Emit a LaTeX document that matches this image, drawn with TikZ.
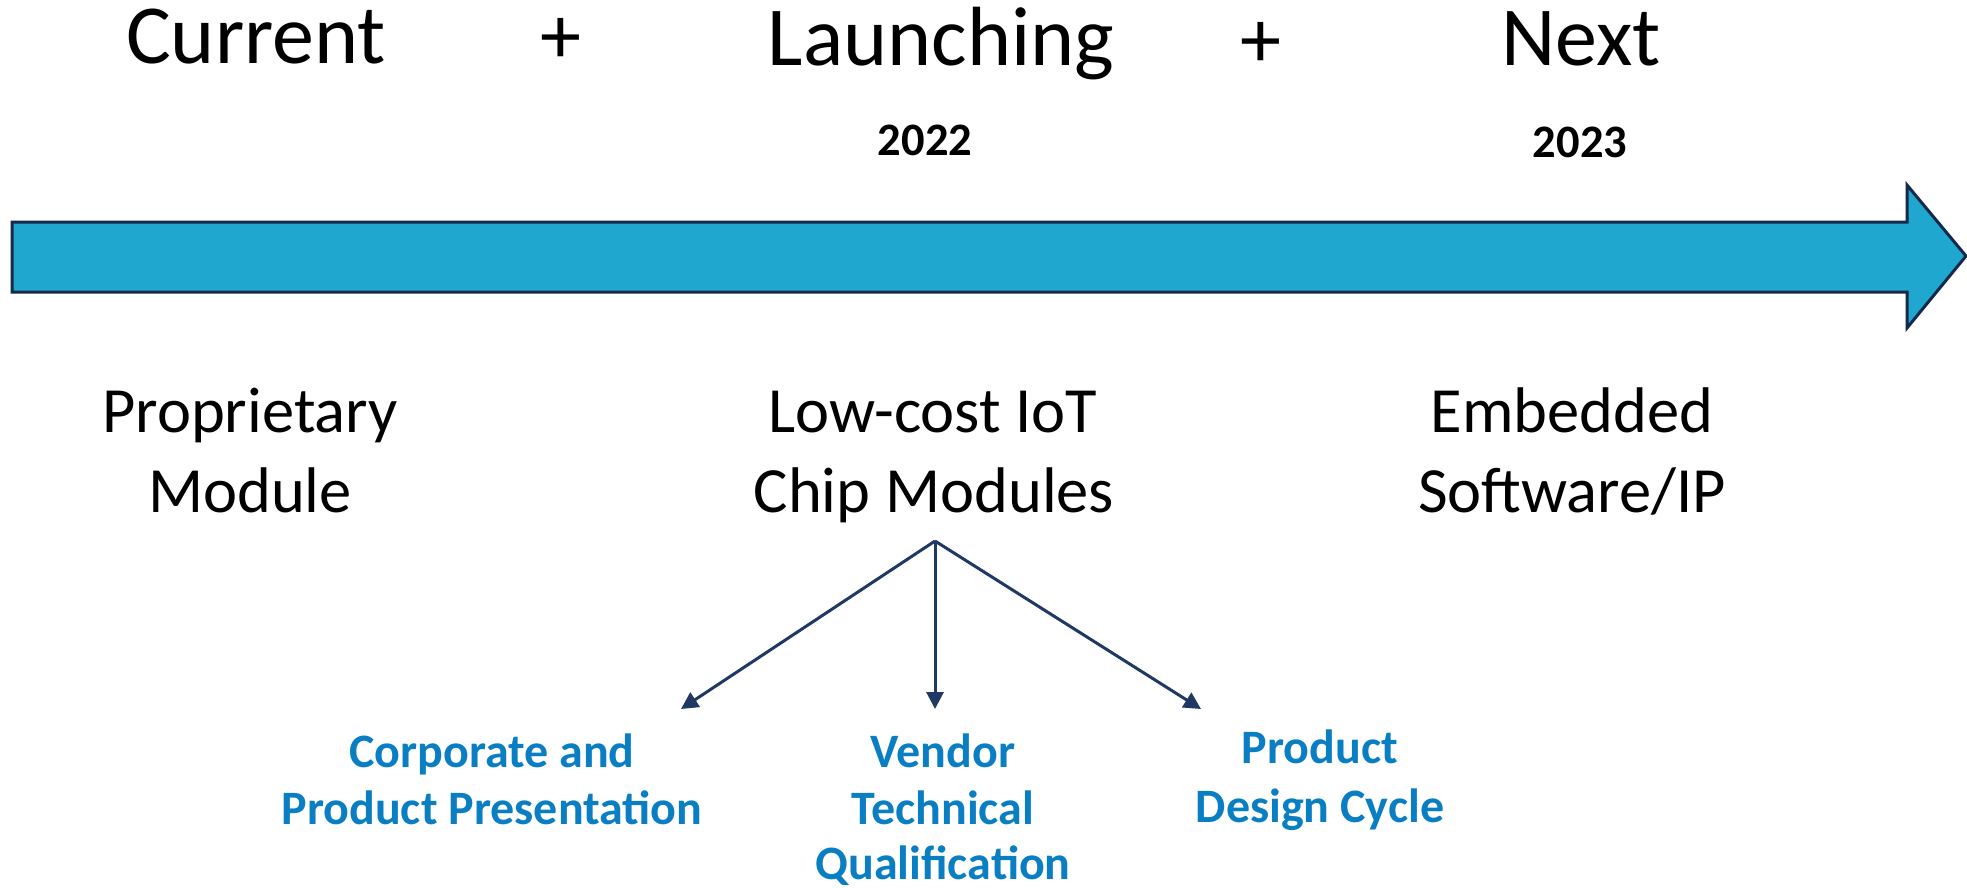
\documentclass[tikz,border=0pt]{standalone}
\usepackage{fontspec}
\setmainfont{Carlito}
\usetikzlibrary{arrows.meta}
\definecolor{arrowfill}{HTML}{1FA7CF}
\definecolor{arrowline}{HTML}{15294A}
\definecolor{linkcol}{HTML}{1F3864}
\definecolor{bluetext}{HTML}{0A7EC2}
\tikzset{
  toptext/.style={inner sep=0pt, anchor=base, font=\fontsize{84}{100}\selectfont},
  plustext/.style={inner sep=0pt, anchor=center, font=\fontsize{82}{98}\selectfont},
  yeartext/.style={inner sep=0pt, anchor=base, font=\fontsize{46.5}{56}\selectfont\bfseries},
  labeltext/.style={inner sep=0pt, anchor=base, font=\fontsize{64.5}{78}\selectfont},
  subtext/.style={inner sep=0pt, anchor=base, text=bluetext, font=\fontsize{48}{58}\selectfont\bfseries},
  link/.style={draw=linkcol, line width=3pt, -{Triangle[length=17pt,width=17pt]}},
  bigarrow/.style={fill=arrowfill, draw=arrowline, line width=3pt, line join=miter},
}
\begin{document}
\begin{tikzpicture}[x=1pt,y=-1pt]
\useasboundingbox (0,0) rectangle (1967,887);
% big timeline arrow
\path[bigarrow] (12,222) -- (1907,222) -- (1907,185) -- (1966,256) -- (1907,328) -- (1907,292) -- (12,292) -- cycle;
% top headings
\node[toptext] (current) at (256,63) {Current};
\node[plustext] (plus1) at (561,41) {+};
\node[toptext] (launching) at (941,65) {Launching};
\node[plustext] (plus2) at (1261,45) {+};
\node[toptext] (next) at (1581,65) {Next};
\node[yeartext] (y2022) at (925,155) {2022};
\node[yeartext] (y2023) at (1580,157) {2023};
% labels under the arrow
\node[labeltext] (prop1) at (250,432) {Proprietary};
\node[labeltext] (prop2) at (250,512) {Module};
\node[labeltext] (chip1) at (933,432) {Low-cost IoT};
\node[labeltext] (chip2) at (934,512) {Chip Modules};
\node[labeltext] (emb1) at (1572,432) {Embedded};
\node[labeltext] (emb2) at (1572,512) {Software/IP};
% sub items
\node[subtext] (corp1) at (492,767) {Corporate and};
\node[subtext] (corp2) at (492,824) {Product Presentation};
\node[subtext] (vend1) at (943,767) {Vendor};
\node[subtext] (vend2) at (943,824) {Technical};
\node[subtext] (vend3) at (943,879) {Qualification};
\node[subtext] (prod1) at (1320,763) {Product};
\node[subtext] (prod2) at (1320,822) {Design Cycle};
% connectors
\coordinate (fork) at (935,541);
\coordinate (tipL) at (681,709);
\coordinate (tipM) at (935,709);
\coordinate (tipR) at (1201,709);
\draw[link] (fork) -- (tipL);
\draw[link] (fork) -- (tipM);
\draw[link] (fork) -- (tipR);
\end{tikzpicture}
\end{document}
